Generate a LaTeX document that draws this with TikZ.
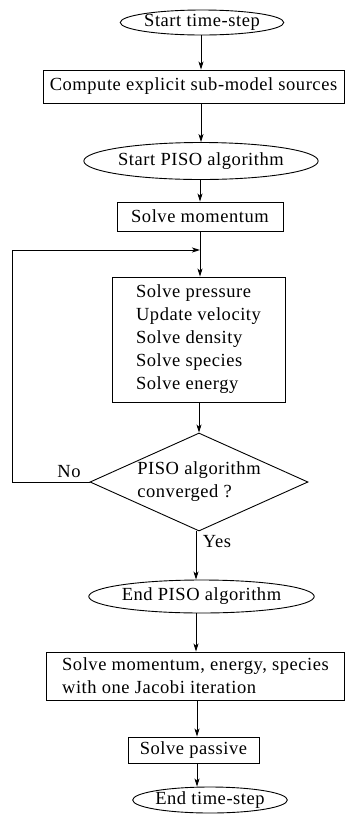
\documentclass[tikz,border=0pt]{standalone}
\usepackage{fontspec}
\setmainfont[LetterSpace=3]{Liberation Serif}
\usetikzlibrary{shapes.geometric,arrows.meta}
\begin{document}
\begin{tikzpicture}[x=1pt,y=-1pt,
  every node/.style={font=\fontsize{18.5}{23}\selectfont, inner sep=0pt},
  term/.style={ellipse, draw, line width=0.9pt},
  proc/.style={rectangle, draw, line width=0.9pt},
  dec/.style={diamond, draw, line width=0.9pt, aspect=2.2, align=left},
  flow/.style={draw, line width=0.9pt, -{Stealth[length=8pt,width=5pt,inset=2pt]}}]
\useasboundingbox (0,0) rectangle (345,823);
\node[term, minimum width=159pt, minimum height=25pt] (st) at (202,22.5) {Start time-step};
\node[proc, minimum width=301pt, minimum height=33pt] (comp) at (193.5,86.5) {Compute explicit sub-model sources};
\node[term, minimum width=202pt, minimum height=37pt] (sp) at (201,161) {Start PISO algorithm};
\node[proc, minimum width=166pt, minimum height=29pt] (mom) at (200,216.5) {Solve momentum};
\node[proc, minimum width=173pt, minimum height=125pt, align=left] (big) at (198.5,339.5)
  {Solve pressure\\Update velocity\\Solve density\\Solve species\\Solve energy};
\node[dec, minimum width=218pt, minimum height=98pt] (dia) at (199,482) {PISO algorithm\\converged ?};
\node (no) at (69,472) {No};
\node (yes) at (217,542) {Yes};
\node[term, minimum width=203pt, minimum height=33pt] (ep) at (201.5,596.5) {End PISO algorithm};
\node[proc, minimum width=298pt, minimum height=48pt, align=left] (jac) at (195.5,676)
  {Solve momentum, energy, species\\with one Jacobi iteration};
\node[proc, minimum width=131pt, minimum height=26pt] (pas) at (193.5,750) {Solve passive};
\node[term, minimum width=134pt, minimum height=26pt] (et) at (210,800) {End time-step};
\coordinate (lp) at (12,482);
\coordinate (j) at (200,250);
\draw[flow] (st.south -| 201,0) -- (comp.north -| 201,0);
\draw[flow] (comp.south -| 201,0) -- (sp.north -| 201,0);
\draw[flow] (sp.south -| 200,0) -- (mom.north -| 200,0);
\draw[flow] (mom.south -| 200,0) -- (big.north -| 200,0);
\draw[flow] (big.south -| 199,0) -- (dia.north);
\draw[flow] (dia.west) -- (lp) |- (j);
\draw[flow] (dia.south -| 196,0) -- (ep.north -| 196,0);
\draw[flow] (ep.south -| 196,0) -- (jac.north -| 196,0);
\draw[flow] (jac.south -| 197,0) -- (pas.north -| 197,0);
\draw[flow] (pas.south -| 197,0) -- (et.north -| 197,0);
\end{tikzpicture}
\end{document}
